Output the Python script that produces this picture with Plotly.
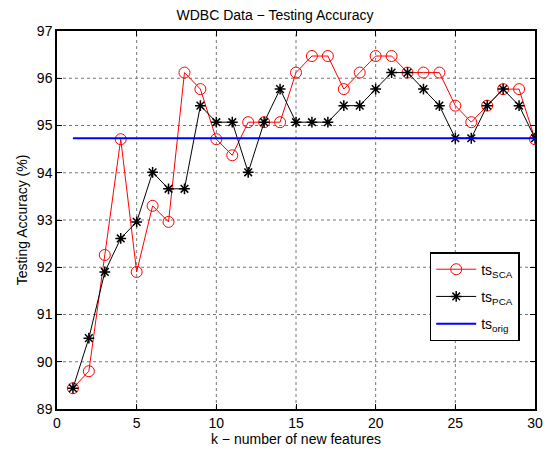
import plotly.graph_objects as go

k = list(range(1, 31))
ts_sca = [89.44, 89.80, 92.26, 94.71, 91.90, 93.30, 92.96, 96.12, 95.77, 94.71,
          94.37, 95.07, 95.07, 95.07, 96.12, 96.47, 96.47, 95.77, 96.12, 96.47,
          96.47, 96.12, 96.12, 96.12, 95.42, 95.07, 95.42, 95.77, 95.77, 94.71]
ts_pca = [89.44, 90.50, 91.90, 92.61, 92.96, 94.01, 93.66, 93.66, 95.42, 95.07,
          95.07, 94.01, 95.07, 95.77, 95.07, 95.07, 95.07, 95.42, 95.42, 95.77,
          96.12, 96.12, 95.77, 95.42, 94.73, 94.73, 95.42, 95.77, 95.42, 94.73]
ts_orig = 94.73
x_ticks = [0, 5, 10, 15, 20, 25, 30]
y_ticks = [89, 90, 91, 92, 93, 94, 95, 96, 97]

font = "Liberation Sans, Arial, Helvetica, sans-serif"

fig = go.Figure()
fig.add_trace(go.Scatter(x=k, y=ts_sca, mode="lines+markers", name="ts<sub>SCA</sub>",
                         legendgroup="a",
                         line=dict(color="#ff0000", width=1),
                         marker=dict(symbol="circle-open", size=11, color="#ff0000",
                                     line=dict(width=1))))
fig.add_trace(go.Scatter(x=k, y=ts_pca, mode="lines+markers", name="ts<sub>PCA</sub>",
                         legendgroup="b",
                         line=dict(color="#000000", width=1),
                         marker=dict(symbol="asterisk-open", size=9, color="#000000",
                                     line=dict(width=1.5, color="#000000"))))
fig.add_trace(go.Scatter(x=[k[0], k[-1]], y=[ts_orig, ts_orig], mode="lines",
                         name="ts<sub>orig</sub>", legendgroup="c",
                         line=dict(color="#0000ff", width=2)))

# dotted grid lines at the tick positions (drawn below the data)
grid_line = dict(color="#777777", width=1, dash="dot")
for xv in x_ticks[1:-1]:
    fig.add_shape(type="line", xref="x", yref="paper", x0=xv, x1=xv, y0=0, y1=1,
                  line=grid_line, layer="below")
for yv in y_ticks[1:-1]:
    fig.add_shape(type="line", xref="paper", yref="y", x0=0, x1=1, y0=yv, y1=yv,
                  line=grid_line, layer="below")

axis_common = dict(showline=True, linecolor="black", linewidth=1.5, mirror="ticks",
                   ticks="inside", ticklen=5, tickcolor="black", tickwidth=1,
                   showgrid=False, zeroline=False, automargin=False,
                   tickfont=dict(size=14, color="black", family=font))

fig.update_layout(
    width=550, height=452,
    margin=dict(l=57, r=15, t=31, b=43),
    paper_bgcolor="white", plot_bgcolor="white",
    font=dict(family=font, size=14, color="black"),
    title=dict(text="WDBC Data \u2212 Testing Accuracy", x=0.5, xanchor="center",
               y=1 - 15 / 452, yanchor="middle", font=dict(size=14)),
    xaxis=dict(range=[0, 30], tickvals=x_ticks,
               title=dict(text="k \u2212 number of new features", standoff=4, font=dict(size=14)),
               **axis_common),
    yaxis=dict(range=[89, 97], tickvals=y_ticks,
               title=dict(text="Testing Accuracy (%)", standoff=6, font=dict(size=14)),
               **axis_common),
    legend=dict(x=0.968, xanchor="right", y=0.415, yanchor="top",
                bgcolor="white", bordercolor="black", borderwidth=1.5,
                font=dict(size=14), tracegroupgap=6, itemwidth=40),
    showlegend=True,
)

fig.write_html("out.html", config={"displayModeBar": False},
               post_script="document.body.style.margin='0';document.body.style.padding='0';")
